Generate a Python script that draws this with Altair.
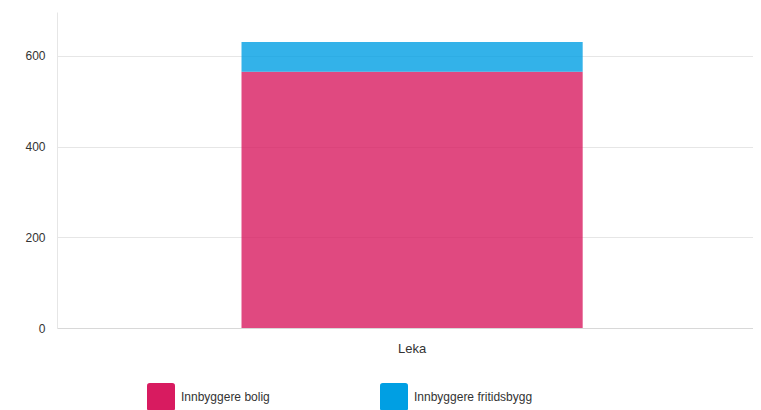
import altair as alt
import pandas as pd

categories = ["Leka", "Leka"]
series = ["Innbyggere bolig", "Innbyggere fritidsbygg"]
values = [565, 66]
order = [0, 1]

df = pd.DataFrame({"kommune": categories, "serie": series, "verdi": values, "rekke": order})

rounded = "M -0.8 -1 L 0.8 -1 Q 1 -1 1 -0.8 L 1 0.8 Q 1 1 0.8 1 L -0.8 1 Q -1 1 -1 0.8 L -1 -0.8 Q -1 -1 -0.8 -1 Z"

chart = alt.Chart(df).mark_bar(opacity=0.8).encode(
    x=alt.X("kommune:N", title=None,
            scale=alt.Scale(paddingInner=0, paddingOuter=0.52, align=0.52),
            axis=alt.Axis(labelAngle=0, ticks=False, labelPadding=14, labelFontSize=13,
                          labelColor="#333333", domainColor="#d8d8d8", grid=False)),
    y=alt.Y("verdi:Q", title=None, stack="zero",
            scale=alt.Scale(domain=[0, 697], nice=False),
            axis=alt.Axis(values=[0, 200, 400, 600], ticks=False, labelPadding=12,
                          labelFontSize=12, labelColor="#333333", gridColor="#e6e6e6",
                          domain=True, domainColor="#e6e6e6")),
    color=alt.Color("serie:N", title=None,
                    scale=alt.Scale(domain=series, range=["#D81B60", "#009FE3"]),
                    legend=alt.Legend(orient="none", legendX=90, legendY=371, direction="horizontal",
                                      columns=2, symbolType=rounded, symbolSize=784,
                                      symbolOpacity=1, symbolStrokeWidth=0, labelFontSize=12,
                                      labelColor="#333333", labelOffset=6, columnPadding=110,
                                      padding=0)),
    order=alt.Order("rekke:Q"),
).properties(
    width=696, height=316,
    autosize=alt.AutoSizeParams(type="none"),
    padding={"left": 49, "top": 4, "right": 0, "bottom": 82},
).configure(
    font="Liberation Sans",
).configure_view(stroke=None)

chart.save("out.html", embed_options={"renderer": "svg", "actions": False})
